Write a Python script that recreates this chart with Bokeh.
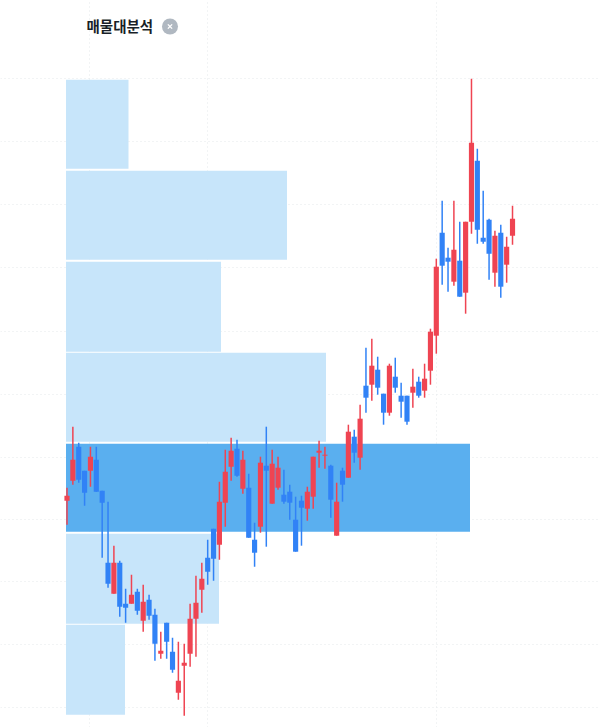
from bokeh.plotting import figure
from bokeh.models import Range1d, FixedTicker, Label
from bokeh.embed import file_html
from bokeh.resources import INLINE

TITLE = "매물대분석"

high = [239,300,284,256,280,280,236,225,181,166,138,152,138,142,132,118,95,104,89,85,83,123,151,164,187,198,245,277,289,287,276,253,204,270,300,277,270,257,242,230,231,240,270,286,280,262,244,259,302,297,322,379,388,370,333,363,369,344,331,358,350,363,398,468,526,479,526,505,505,648,578,536,508,496,502,490,521]
low = [202,242,244,221,240,235,169,139,133,110,104,123,112,95,107,66,68,68,54,27,11,60,70,114,142,146,167,200,246,250,233,189,160,194,180,223,237,223,207,175,181,206,218,259,258,209,191,225,249,264,257,314,326,332,302,311,334,309,302,319,329,329,342,373,442,435,441,430,413,493,483,483,447,440,429,444,482]
open_ = [226,246,280,256,256,267,236,164,133,164,123,123,135,106,127,112,73,104,75,34,61,73,108,137,169,198,182,224,260,278,238,239,187,200,261,223,239,232,235,207,226,218,230,274,271,261,191,256,249,290,269,341,342,357,333,314,350,331,331,334,345,336,356,391,494,469,445,466,434,505,566,489,507,454,494,462,491]
close = [231,267,247,234,270,235,224,143,164,120,119,132,116,125,111,83,76,85,57,46,64,108,124,148,155,168,225,255,276,251,267,189,174,264,256,263,259,225,224,175,219,235,270,276,272,227,225,242,295,274,308,329,361,339,314,361,339,325,305,340,331,348,395,460,461,465,477,430,505,584,497,485,473,491,440,480,508]

profile_low = [558,467,375,285,195,103,12]
profile_high = [647,556,465,374,283,193,102]
profile_volume = [62.5,221,155,260,404,153,59]
profile_peak = 404

grid_prices = [648,585,522,459,395,332,269,207,145,82,19]
grid_times = [3.9,23.9,63.1]

RED = "#EF4452"
BLUE = "#3182F6"
LIGHT = "#C7E5FA"
DARK = "#5AAFEF"

STEP = 5.862
W, H = 600, 727
x0 = 66.5
p = figure(width=W, height=H, output_backend="svg", toolbar_location=None,
           x_range=Range1d(-x0 / STEP, (W - x0) / STEP), y_range=Range1d(-0.8, 726.2),
           min_border=0, min_border_left=0, min_border_right=0, min_border_top=0, min_border_bottom=0,
           outline_line_color=None, background_fill_color="white", border_fill_color="white")
p.extra_x_ranges["volume"] = Range1d(-65.5, W - 65.5)
p.xaxis.visible = False
p.yaxis.visible = False
p.xgrid.ticker = FixedTicker(ticks=grid_times)
p.ygrid.ticker = FixedTicker(ticks=grid_prices)
p.xgrid.bounds = (0, 709)
p.ygrid.bounds = (-0.2, 80.7)
for g in (p.xgrid, p.ygrid):
    g.grid_line_color = "#E5E8EB"
    g.grid_line_dash = "1 3"
    g.grid_line_width = 1

colors = [LIGHT if v != profile_peak else DARK for v in profile_volume]
p.hbar(y=[(a + b) / 2 for a, b in zip(profile_low, profile_high)],
       height=[b - a for a, b in zip(profile_low, profile_high)],
       left=0, right=profile_volume, x_range_name="volume",
       fill_color=colors, line_color=None)

idx = list(range(len(high)))
cc = [RED if c >= o else BLUE for o, c in zip(open_, close)]
p.segment(idx, low, idx, high, line_color=cc, line_width=1.5)
p.vbar(x=idx, bottom=[min(o, c) for o, c in zip(open_, close)],
       top=[max(o, c) for o, c in zip(open_, close)], width=0.88,
       fill_color=cc, line_color=None)

p.add_layout(Label(x=86, y=H - 24.5, x_units="screen", y_units="screen", text=TITLE,
                   text_font="Noto Sans CJK KR", text_font_size="14.5px", text_font_style="bold",
                   text_color="#191F28", text_baseline="middle", text_align="left"))
p.scatter([17.57], [700.2], size=16, marker="circle", fill_color="#B0B8C1", line_color=None)
p.scatter([17.57], [700.2], size=6, marker="x", line_color="white", line_width=1.4)

open("out.html", "w").write(file_html(p, INLINE))
